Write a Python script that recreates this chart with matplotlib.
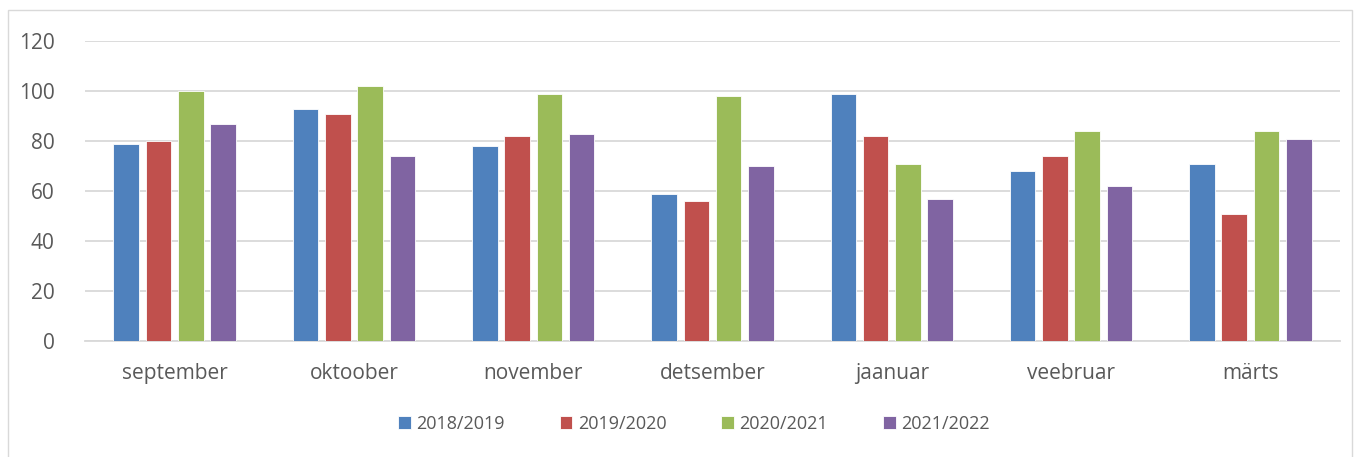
import matplotlib.pyplot as plt
import matplotlib.patches as patches
import numpy as np

months = ["september", "oktoober", "november", "detsember", "jaanuar", "veebruar", "märts"]
seasons = ["2018/2019", "2019/2020", "2020/2021", "2021/2022"]
s2018 = [79, 93, 78, 59, 99, 68, 71]
s2019 = [80, 91, 82, 56, 82, 74, 51]
s2020 = [100, 102, 99, 98, 71, 84, 84]
s2021 = [87, 74, 83, 70, 57, 62, 81]
colors = ["#4F81BD", "#C0504D", "#9BBB59", "#8064A2"]

plt.rcParams['font.family'] = ['Open Sans', 'DejaVu Sans']
text_color = "#595959"

W, H = 1361, 457
fig = plt.figure(figsize=(W / 100, H / 100), dpi=100)
ax = fig.add_axes([85 / W, 1 - 341 / H, (1340 - 85) / W, 300 / H])

# chart frame
fig.patches.append(patches.Rectangle((8 / W, -0.01), (1352 - 8) / W, 1 - 10 / H + 0.01,
                                     transform=fig.transFigure, fill=False,
                                     edgecolor="#D9D9D9", linewidth=1))

x = np.arange(len(months))
step = 0.18
width = 0.143
for i, (vals, lab, c) in enumerate(zip([s2018, s2019, s2020, s2021], seasons, colors)):
    ax.bar(x + (i - 1.5) * step, vals, width, color=c, label=lab,
           edgecolor="white", linewidth=0.6, zorder=3)

ax.set_xlim(-0.5, len(months) - 0.5)
ax.set_ylim(0, 120)
ax.set_yticks(range(0, 121, 20))
ax.set_xticks(x)
ax.set_xticklabels(months)
ax.grid(axis="y", color="#D9D9D9", linewidth=1.3, zorder=0)
for s in ["top", "right", "left"]:
    ax.spines[s].set_visible(False)
ax.spines["bottom"].set_color("#D9D9D9")
ax.spines["bottom"].set_linewidth(1.3)
ax.tick_params(axis="both", length=0, labelsize=15, colors=text_color)
ax.tick_params(axis="x", pad=16)
ax.tick_params(axis="y", pad=22)

leg = ax.legend(loc="center", bbox_to_anchor=(694 / W, 1 - 424 / H),
                bbox_transform=fig.transFigure, ncol=4, frameon=False,
                fontsize=13, handlelength=0.7, handleheight=0.7,
                handletextpad=0.3, columnspacing=3.05)
for t in leg.get_texts():
    t.set_color(text_color)

fig.savefig("out.png", dpi=100)
